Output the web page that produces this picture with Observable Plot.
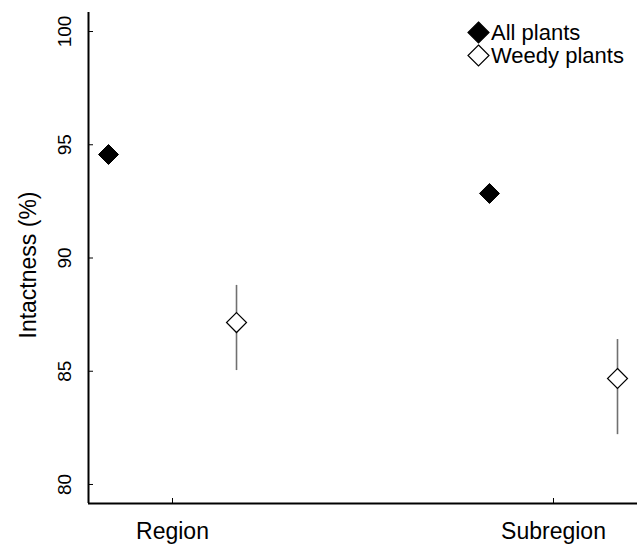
<!DOCTYPE html>
<html><head><meta charset="utf-8">
<script src="https://cdn.jsdelivr.net/npm/d3@7"></script>
<script src="https://cdn.jsdelivr.net/npm/@observablehq/plot@0.6"></script>
<style>
body{margin:0;background:#fff;font-family:"Liberation Sans",Arial,sans-serif;}
#wrap{position:relative;width:637px;height:548px;}
#legend{position:absolute;left:467px;top:21px;font-size:22px;line-height:23px;color:#000;}
.item{display:flex;align-items:center;height:23px;white-space:nowrap;}
.item svg{display:block;margin-right:1px;}
</style></head><body><div id="wrap"><div id="legend"></div></div>
<script>
const categories = ["Region", "Subregion"];
const series = ["All plants", "Weedy plants"];
const allPlants = [94.57, 92.85];
const weedyPlants = [87.15, 84.68];
const weedyLow = [85.03, 82.2];
const weedyHigh = [88.79, 86.4];
const yTicks = [80, 85, 90, 95, 100];
const yLabel = "Intactness (%)";

const offset = 0.168;
const rows = [];
categories.forEach((c, i) => {
  rows.push({cat: c, pos: i + 1 - offset, series: series[0], v: allPlants[i]});
  rows.push({cat: c, pos: i + 1 + offset, series: series[1], v: weedyPlants[i], lo: weedyLow[i], hi: weedyHigh[i]});
});
const weedy = rows.filter(d => d.series === series[1]);
const all = rows.filter(d => d.series === series[0]);

const W = 637, H = 548, mL = 88, mR = 0, mT = 12, mB = 45;
const xDom = [0.7795, 2.2205], yDom = [79.16, 100.84];
const font = '"Liberation Sans", Arial, sans-serif';

const plot = Plot.plot({
  width: W, height: H,
  marginLeft: mL, marginRight: mR, marginTop: mT, marginBottom: mB,
  style: {fontFamily: font, fontSize: "18px", color: "#000", background: "#fff"},
  x: {type: "linear", domain: xDom, axis: null},
  y: {type: "linear", domain: yDom, axis: null},
  marks: [
    Plot.tickY(yTicks, {y: d => d, insetRight: (W - mL - mR) - 5, stroke: "#000", strokeWidth: 1}),
    Plot.tickX(categories, {x: (d, i) => i + 1, insetTop: (H - mT - mB) - 5, stroke: "#000", strokeWidth: 1}),
    Plot.ruleX([xDom[0]], {stroke: "#000", strokeWidth: 2}),
    Plot.ruleY([yDom[0]], {stroke: "#000", strokeWidth: 2}),
    Plot.text(yTicks, {y: d => d, text: d => String(d), frameAnchor: "left", textAnchor: "middle", lineAnchor: "middle", dx: -24, rotate: -90, fontSize: 19, fill: "#000"}),
    Plot.text(categories, {x: (d, i) => i + 1, text: d => d, frameAnchor: "bottom", textAnchor: "middle", lineAnchor: "middle", dy: 28, fontSize: 23, fill: "#000"}),
    Plot.text([yLabel], {text: d => d, frameAnchor: "left", textAnchor: "middle", lineAnchor: "middle", dx: -60, dy: 7, rotate: -90, fontSize: 23, fill: "#000"}),
    Plot.ruleX(weedy, {x: "pos", y1: "lo", y2: "hi", stroke: "#707070", strokeWidth: 1.6}),
    Plot.dot(all, {x: "pos", y: "v", symbol: "diamond2", r: 9, fill: "#000", stroke: "#000", strokeWidth: 1}),
    Plot.dot(weedy, {x: "pos", y: "v", symbol: "diamond2", r: 9, fill: "#fff", stroke: "#000", strokeWidth: 1.2})
  ]
});
document.getElementById("wrap").prepend(plot);

const legend = document.getElementById("legend");
series.forEach((s, i) => {
  const item = document.createElement("div");
  item.className = "item";
  const fill = i === 0 ? "#000" : "#fff";
  item.innerHTML = `<svg width="23" height="23" viewBox="-11.5 -11.5 23 23"><path d="M0,-10.5L10.5,0L0,10.5L-10.5,0Z" fill="${fill}" stroke="#000" stroke-width="1.2"/></svg><span>${s}</span>`;
  legend.appendChild(item);
});
</script>
</body></html>
